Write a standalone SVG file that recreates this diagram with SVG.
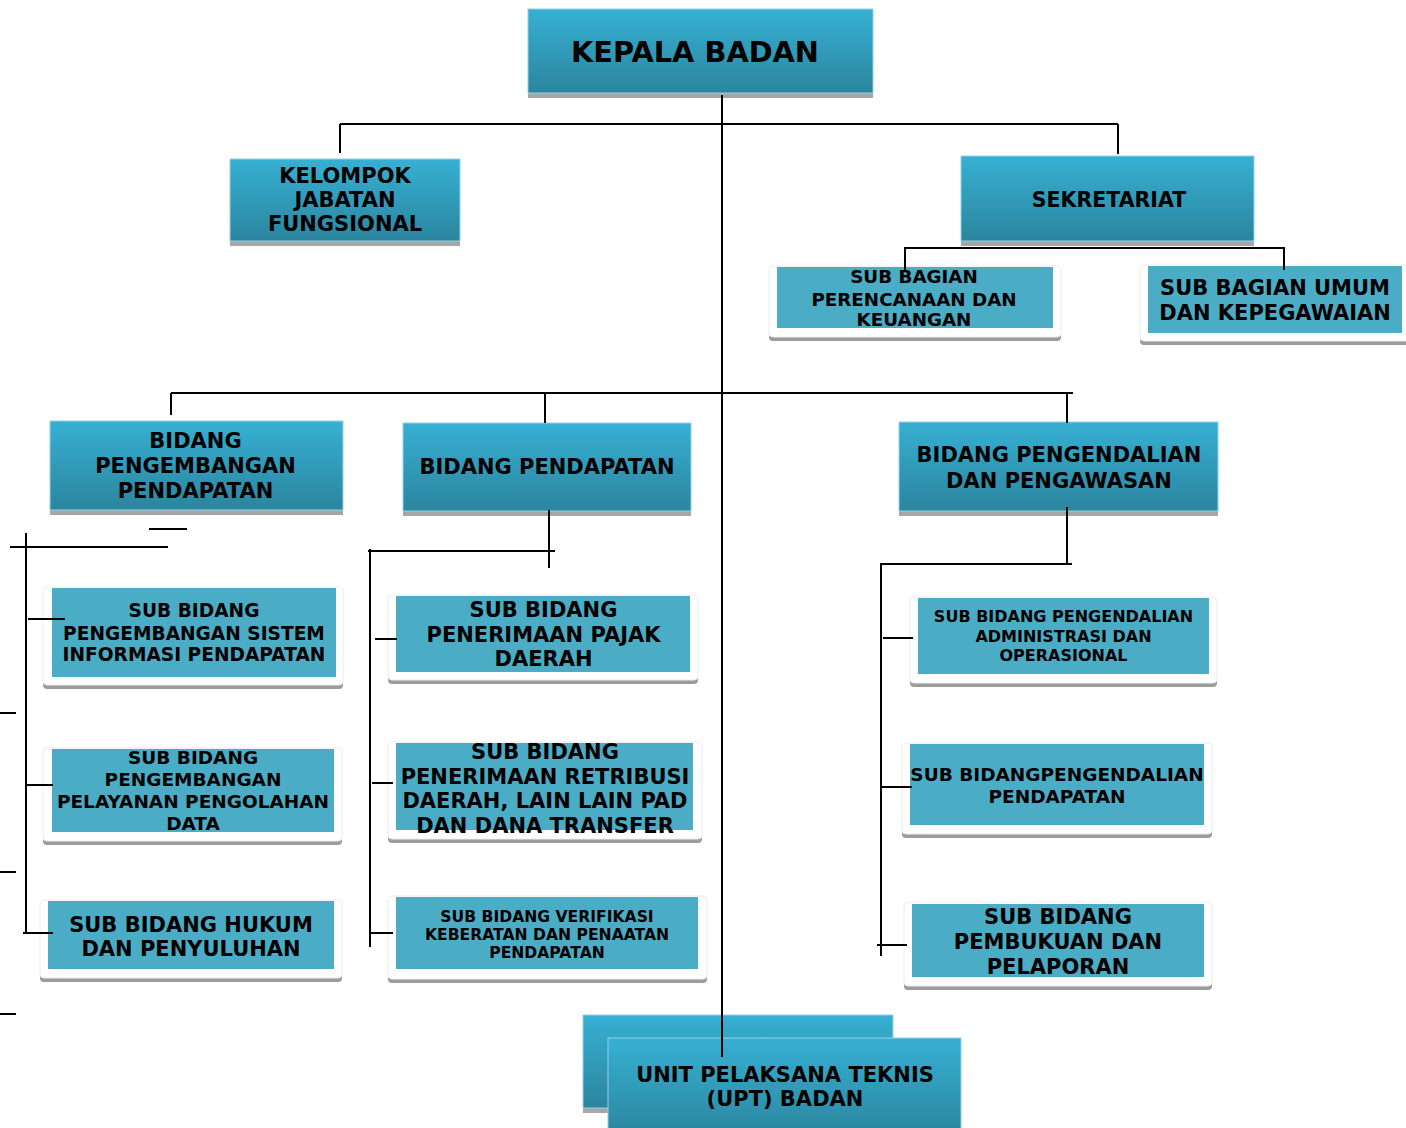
<svg xmlns="http://www.w3.org/2000/svg" width="1406" height="1128" viewBox="0 0 1406 1128">
<defs>
<linearGradient id="g" x1="0" y1="0" x2="0" y2="1">
<stop offset="0" stop-color="#37B0D3"/>
<stop offset="1" stop-color="#2B859E"/>
</linearGradient>
<style>
.box{fill:url(#g);stroke:#8fd3e6;stroke-width:1}
.sh{fill:#A6A6A6}
.card{fill:#fff;stroke:#ececec;stroke-width:1}
.csh{fill:#9c9c9c}
.in{fill:#4BACC6}
text{font-family:"DejaVu Sans",Verdana,sans-serif;font-weight:bold;fill:#000;text-anchor:middle}
.con path{stroke:#000;stroke-width:2;fill:none}
</style>
</defs>
<rect width="1406" height="1128" fill="#fff"/>

<g id="kepala">
<rect class="sh" x="528" y="14" width="345" height="84"/>
<rect class="box" x="528" y="9" width="345" height="84"/>
<text x="695" y="62" font-size="28.8">KEPALA BADAN</text>
</g>

<g id="kelompok">
<rect class="sh" x="230" y="164" width="230" height="82"/>
<rect class="box" x="230" y="159" width="230" height="82"/>
<text font-size="21"><tspan x="345" y="183">KELOMPOK</tspan><tspan x="345" y="207">JABATAN</tspan><tspan x="345" y="231">FUNGSIONAL</tspan></text>
</g>

<g id="sekretariat">
<rect class="sh" x="961" y="161" width="293" height="85"/>
<rect class="box" x="961" y="156" width="293" height="85"/>
<text x="1109" y="206.5" font-size="20.5">SEKRETARIAT</text>
</g>

<g id="perencanaan">
<rect class="csh" x="769" y="270" width="292" height="71" rx="4"/>
<rect class="card" x="769" y="266" width="292" height="71" rx="4"/>
<rect class="in" x="777" y="267" width="276" height="61"/>
<text font-size="18.3"><tspan x="914" y="283">SUB BAGIAN</tspan><tspan x="914" y="305.5">PERENCANAAN DAN</tspan><tspan x="914" y="326">KEUANGAN</tspan></text>
</g>

<g id="umum">
<rect class="csh" x="1140" y="269" width="280" height="76" rx="4"/>
<rect class="card" x="1140" y="265" width="280" height="76" rx="4"/>
<rect class="in" x="1148" y="266" width="254" height="67"/>
<text font-size="21"><tspan x="1275" y="295">SUB BAGIAN UMUM</tspan><tspan x="1275" y="320">DAN KEPEGAWAIAN</tspan></text>
</g>

<g id="bidang-pengembangan">
<rect class="sh" x="50" y="426" width="293" height="89"/>
<rect class="box" x="50" y="421" width="293" height="89"/>
<text font-size="21"><tspan x="195.5" y="448">BIDANG</tspan><tspan x="195.5" y="473">PENGEMBANGAN</tspan><tspan x="195.5" y="498">PENDAPATAN</tspan></text>
</g>

<g id="bidang-pendapatan">
<rect class="sh" x="403" y="428" width="288" height="88"/>
<rect class="box" x="403" y="423" width="288" height="88"/>
<text x="547" y="474" font-size="21">BIDANG PENDAPATAN</text>
</g>

<g id="bidang-pengendalian">
<rect class="sh" x="899" y="427" width="319" height="89"/>
<rect class="box" x="899" y="422" width="319" height="89"/>
<text font-size="21"><tspan x="1059" y="462">BIDANG PENGENDALIAN</tspan><tspan x="1059" y="487.5">DAN PENGAWASAN</tspan></text>
</g>

<g id="sub-sistem">
<rect class="csh" x="43" y="591" width="300" height="98" rx="4"/>
<rect class="card" x="43" y="587" width="300" height="98" rx="4"/>
<rect class="in" x="52" y="588" width="284" height="89"/>
<text font-size="18.6"><tspan x="194" y="617">SUB BIDANG</tspan><tspan x="194" y="639.5">PENGEMBANGAN SISTEM</tspan><tspan x="194" y="661">INFORMASI PENDAPATAN</tspan></text>
</g>

<g id="sub-pelayanan">
<rect class="csh" x="43" y="752" width="299" height="93" rx="4"/>
<rect class="card" x="43" y="748" width="299" height="93" rx="4"/>
<rect class="in" x="52" y="749" width="282" height="83"/>
<text font-size="18.5"><tspan x="193" y="764">SUB BIDANG</tspan><tspan x="193" y="785.5">PENGEMBANGAN</tspan><tspan x="193" y="808">PELAYANAN PENGOLAHAN</tspan><tspan x="193" y="830">DATA</tspan></text>
</g>

<g id="sub-hukum">
<rect class="csh" x="40" y="904" width="302" height="78" rx="4"/>
<rect class="card" x="40" y="900" width="302" height="78" rx="4"/>
<rect class="in" x="48" y="901" width="286" height="68"/>
<text font-size="21"><tspan x="191" y="931.5">SUB BIDANG HUKUM</tspan><tspan x="191" y="955.5">DAN PENYULUHAN</tspan></text>
</g>

<g id="sub-pajak">
<rect class="csh" x="388" y="599" width="310" height="85" rx="4"/>
<rect class="card" x="388" y="595" width="310" height="85" rx="4"/>
<rect class="in" x="396" y="596" width="294" height="76"/>
<text font-size="21"><tspan x="543.5" y="617">SUB BIDANG</tspan><tspan x="543.5" y="641.5">PENERIMAAN PAJAK</tspan><tspan x="543.5" y="666">DAERAH</tspan></text>
</g>

<g id="sub-retribusi">
<rect class="csh" x="388" y="746" width="314" height="97" rx="4"/>
<rect class="card" x="388" y="742" width="314" height="97" rx="4"/>
<rect class="in" x="396" y="743" width="297" height="87"/>
<text font-size="21"><tspan x="545" y="759">SUB BIDANG</tspan><tspan x="545" y="784">PENERIMAAN RETRIBUSI</tspan><tspan x="545" y="808">DAERAH, LAIN LAIN PAD</tspan><tspan x="545" y="833">DAN DANA TRANSFER</tspan></text>
</g>

<g id="sub-verifikasi">
<rect class="csh" x="388" y="900" width="319" height="83" rx="4"/>
<rect class="card" x="388" y="896" width="319" height="83" rx="4"/>
<rect class="in" x="396" y="897" width="302" height="72"/>
<text font-size="15.6"><tspan x="547" y="921.5">SUB BIDANG VERIFIKASI</tspan><tspan x="547" y="939.5">KEBERATAN DAN PENAATAN</tspan><tspan x="547" y="958">PENDAPATAN</tspan></text>
</g>

<g id="sub-admin">
<rect class="csh" x="910" y="601" width="307" height="86" rx="4"/>
<rect class="card" x="910" y="597" width="307" height="86" rx="4"/>
<rect class="in" x="918" y="598" width="291" height="76"/>
<text font-size="16"><tspan x="1063.5" y="622">SUB BIDANG PENGENDALIAN</tspan><tspan x="1063.5" y="641.5">ADMINISTRASI DAN</tspan><tspan x="1063.5" y="660.5">OPERASIONAL</tspan></text>
</g>

<g id="sub-pengendalian-pendapatan">
<rect class="csh" x="902" y="747" width="310" height="91" rx="4"/>
<rect class="card" x="902" y="743" width="310" height="91" rx="4"/>
<rect class="in" x="910" y="744" width="294" height="81"/>
<text font-size="18.5"><tspan x="1057" y="780.5">SUB BIDANGPENGENDALIAN</tspan><tspan x="1057" y="802.5">PENDAPATAN</tspan></text>
</g>

<g id="sub-pembukuan">
<rect class="csh" x="904" y="906" width="308" height="84" rx="4"/>
<rect class="card" x="904" y="902" width="308" height="84" rx="4"/>
<rect class="in" x="912" y="904" width="292" height="73"/>
<text font-size="21"><tspan x="1058" y="924">SUB BIDANG</tspan><tspan x="1058" y="949">PEMBUKUAN DAN</tspan><tspan x="1058" y="974">PELAPORAN</tspan></text>
</g>

<g id="upt">
<rect class="sh" x="583" y="1020" width="310" height="93"/>
<rect class="box" x="583" y="1015" width="310" height="93"/>
<rect class="box" x="608" y="1038" width="353" height="100"/>
<text font-size="21"><tspan x="785" y="1081.5">UNIT PELAKSANA TEKNIS</tspan><tspan x="785" y="1106">(UPT) BADAN</tspan></text>
</g>

<g id="connectors" class="con">
<path d="M722,95 V1057"/>
<path d="M340,124 H1118"/>
<path d="M340,124 V153"/>
<path d="M1118,124 V154"/>
<path d="M904,248 H1285"/>
<path d="M905,248 V270"/>
<path d="M1284,248 V270"/>
<path d="M171,393 H1073"/>
<path d="M171,393 V415"/>
<path d="M545,393 V423"/>
<path d="M1067,393 V423"/>
<path d="M149,529 H187"/>
<path d="M10,547 H168"/>
<path d="M26,533 V933"/>
<path d="M28,619 H65"/>
<path d="M0,713 H16"/>
<path d="M0,872 H16"/>
<path d="M0,1014 H16"/>
<path d="M25,785 H53"/>
<path d="M23,933 H53"/>
<path d="M549,510 V568"/>
<path d="M368,551 H555"/>
<path d="M370,549 V947"/>
<path d="M375,639 H397"/>
<path d="M372,783 H393"/>
<path d="M370,933 H393"/>
<path d="M1067,507 V565"/>
<path d="M882,564 H1072"/>
<path d="M881,563 V956"/>
<path d="M883,638 H913"/>
<path d="M882,787 H912"/>
<path d="M877,945 H907"/>
</g>
</svg>
